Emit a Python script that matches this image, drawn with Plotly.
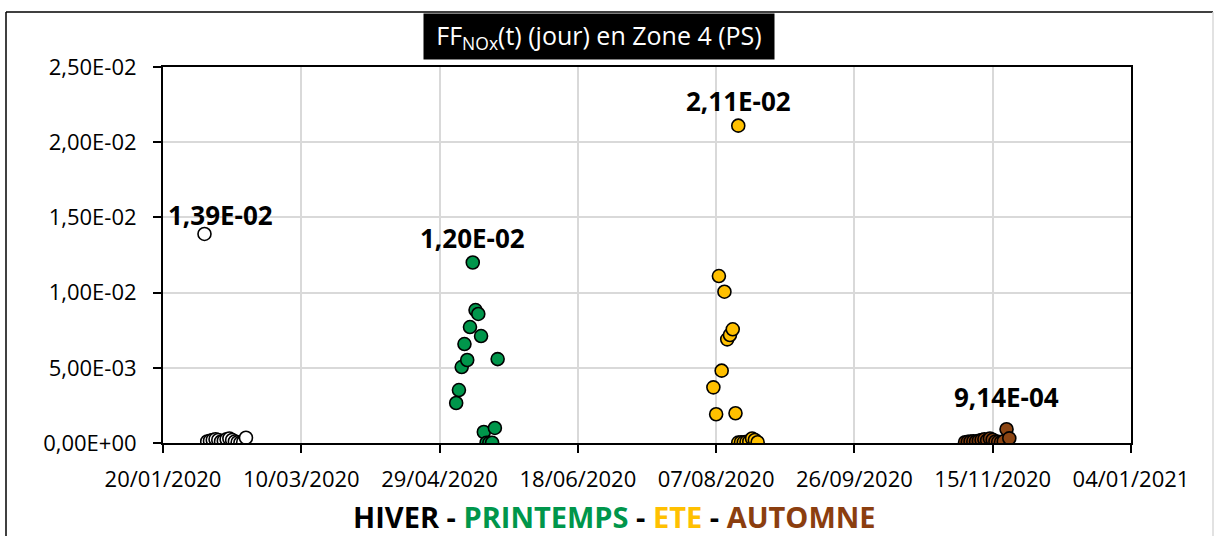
import plotly.graph_objects as go

# Daily FF NOx values (Zone 4, PS) per season
hiver_dates = ["2020-02-04", "2020-02-05", "2020-02-06", "2020-02-07", "2020-02-08",
               "2020-02-09", "2020-02-10", "2020-02-11", "2020-02-12", "2020-02-13",
               "2020-02-14", "2020-02-15", "2020-02-16", "2020-02-17", "2020-02-18",
               "2020-02-19"]
hiver_values = [0.0139, 0.00010, 0.00015, 0.00020, 0.00025,
                0.00020, 0.00010, 0.00015, 0.00025, 0.00030,
                0.00020, 0.00010, 0.00005, 0.00002, 0.00005,
                0.00035]

printemps_dates = ["2020-05-05", "2020-05-06", "2020-05-07", "2020-05-08", "2020-05-09",
                   "2020-05-10", "2020-05-11", "2020-05-12", "2020-05-13", "2020-05-14",
                   "2020-05-15", "2020-05-16", "2020-05-17", "2020-05-18", "2020-05-19",
                   "2020-05-20"]
printemps_values = [0.00266, 0.00352, 0.00505, 0.00658, 0.00552,
                    0.00771, 0.0120, 0.00884, 0.00858, 0.00711,
                    0.00073, 0.00002, 0.00001, 0.00002, 0.00100,
                    0.00558]

ete_dates = ["2020-08-06", "2020-08-07", "2020-08-08", "2020-08-09", "2020-08-10",
             "2020-08-11", "2020-08-12", "2020-08-13", "2020-08-14", "2020-08-15",
             "2020-08-15", "2020-08-16", "2020-08-17", "2020-08-18", "2020-08-19",
             "2020-08-20", "2020-08-21", "2020-08-22"]
ete_values = [0.00370, 0.00191, 0.01110, 0.00481, 0.01006,
              0.00689, 0.00718, 0.00756, 0.00198, 0.0211,
              0.00003, 0.00005, 0.00004, 0.00008, 0.00010,
              0.00030, 0.00020, 0.00005]

automne_dates = ["2020-11-05", "2020-11-06", "2020-11-07", "2020-11-08", "2020-11-09",
                 "2020-11-10", "2020-11-11", "2020-11-12", "2020-11-13", "2020-11-14",
                 "2020-11-15", "2020-11-16", "2020-11-17", "2020-11-18", "2020-11-19",
                 "2020-11-20", "2020-11-21"]
automne_values = [0.00005, 0.00008, 0.00010, 0.00012, 0.00010,
                  0.00015, 0.00020, 0.00025, 0.00018, 0.00030,
                  0.00022, 0.00010, 0.00008, 0.00005, 0.00012,
                  0.000914, 0.00031]

x_tickvals = ["2020-01-20", "2020-03-10", "2020-04-29", "2020-06-18",
              "2020-08-07", "2020-09-26", "2020-11-15", "2021-01-04"]
x_ticktext = ["20/01/2020", "10/03/2020", "29/04/2020", "18/06/2020",
              "07/08/2020", "26/09/2020", "15/11/2020", "04/01/2021"]
y_tickvals = [0, 0.005, 0.01, 0.015, 0.02, 0.025]
y_ticktext = ["0,00E+00", "5,00E-03", "1,00E-02", "1,50E-02", "2,00E-02", "2,50E-02"]

season_names = ["HIVER", "PRINTEMPS", "ETE", "AUTOMNE"]
season_colors = ["#FFFFFF", "#00964B", "#FFC000", "#8B4513"]
season_text_colors = ["#000000", "#00964B", "#FFC000", "#8B3E0F"]

W, H = 1215, 536
L, R, T, B = 163, 1131, 67, 443  # plot area in pixels


def px(xp):
    return (xp - L) / (R - L)


def py(yp):
    return (B - yp) / (B - T)


def fr_sci(v):
    return f"{v:.2E}".replace(".", ",")


FONT = "Open Sans, Segoe UI, sans-serif"

fig = go.Figure()
series = [(hiver_dates, hiver_values), (printemps_dates, printemps_values),
          (ete_dates, ete_values), (automne_dates, automne_values)]
for (d, v), name, col in zip(series, season_names, season_colors):
    fig.add_trace(go.Scatter(
        x=d, y=v, mode="markers", name=name,
        marker=dict(size=13, color=col, line=dict(color="#000000", width=1.6)),
        showlegend=False,
    ))

# Peak value labels for each season
label_xshift = [16, 0, 0, 0]
label_yshift = [19, 25, 25, 32]
for (d, v), xs, ys in zip(series, label_xshift, label_yshift):
    i = max(range(len(v)), key=lambda k: v[k])
    fig.add_annotation(
        x=d[i], y=v[i], text=f"<b>{fr_sci(v[i])}</b>", showarrow=False,
        xanchor="center", yanchor="middle",
        xshift=xs, yshift=ys, font=dict(family=FONT, size=26, color="#000000"),
    )

# Title in a black box
fig.add_annotation(
    xref="paper", yref="paper", x=px(599), y=py(36.5),
    xanchor="center", yanchor="middle",
    text="FF<sub>NOx</sub>(t) (jour) en Zone 4 (PS)", showarrow=False,
    width=348, height=43, bgcolor="#000000", borderpad=1,
    font=dict(family=FONT, size=25, color="#FFFFFF"),
)

# Season colour key under the axis
sep = '<span style="color:#000000"> - </span>'
key = sep.join(f'<span style="color:{c}">{n}</span>'
               for n, c in zip(season_names, season_text_colors))
fig.add_annotation(
    xref="paper", yref="paper", x=px(614), y=py(516),
    xanchor="center", yanchor="middle",
    text=f"<b>{key}</b>", showarrow=False,
    font=dict(family=FONT, size=29, color="#000000"),
)

# Outer chart border
fig.add_shape(type="line", xref="paper", yref="paper",
              x0=px(6), x1=px(6), y0=py(12), y1=py(540),
              line=dict(color="#000000", width=1.5))
fig.add_shape(type="line", xref="paper", yref="paper",
              x0=px(6), x1=px(1213), y0=py(12), y1=py(12),
              line=dict(color="#000000", width=1.5))
fig.add_shape(type="line", xref="paper", yref="paper",
              x0=px(1213), x1=px(1213), y0=py(12), y1=py(540),
              line=dict(color="#D9D9D9", width=1.5))

fig.update_xaxes(
    type="date", range=["2020-01-20", "2021-01-04"],
    tickvals=x_tickvals, ticktext=x_ticktext,
    showgrid=True, gridcolor="#D9D9D9", gridwidth=1.5,
    showline=True, linecolor="#000000", linewidth=2, mirror=True,
    ticks="outside", ticklen=8, tickcolor="#000000", tickwidth=1.5,
    ticklabelstandoff=8,
    tickfont=dict(family=FONT, size=22, color="#000000"),
    zeroline=False,
)
fig.update_yaxes(
    range=[0, 0.025], tickvals=y_tickvals, ticktext=y_ticktext,
    showgrid=True, gridcolor="#D9D9D9", gridwidth=1.5,
    showline=True, linecolor="#000000", linewidth=2, mirror=True,
    ticks="outside", ticklen=8, tickcolor="#000000", tickwidth=1.5,
    ticklabelstandoff=12,
    tickfont=dict(family=FONT, size=22, color="#000000"),
    zeroline=False,
)

fig.update_layout(
    width=W, height=H,
    margin=dict(l=L, r=W - R, t=T, b=H - B, pad=0),
    paper_bgcolor="#FFFFFF", plot_bgcolor="#FFFFFF",
    font=dict(family=FONT),
)

fig.write_html("out.html")
